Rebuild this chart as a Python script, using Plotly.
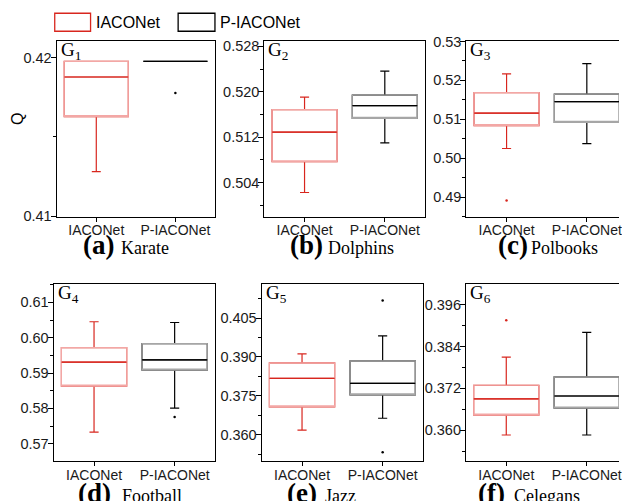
import plotly.graph_objects as go

W, H = 622, 501

# ---------------- data ----------------
categories = ["IACONet", "P-IACONet"]
panel_letters = ["a", "b", "c", "d", "e", "f"]
dataset_names = ["Karate", "Dolphins", "Polbooks", "Football", "Jazz", "Celegans"]

# IACONet box statistics per dataset
iaco_lower = [0.41281, 0.50226, 0.5025, 0.5733, 0.3618, 0.3586]
iaco_q1 = [0.41629, 0.50767, 0.5084, 0.58633, 0.3708, 0.3643]
iaco_median = [0.41879, 0.5129, 0.5116, 0.5931, 0.3818, 0.3690]
iaco_q3 = [0.41978, 0.51684, 0.51685, 0.59718, 0.3877, 0.3729]
iaco_upper = [0.41978, 0.51905, 0.5217, 0.6045, 0.3912, 0.3810]
iaco_outliers = [[], [], [0.4891], [], [], [0.3916]]

# P-IACONet box statistics per dataset
p_lower = [0.41978, 0.51101, 0.50377, 0.5801, 0.3664, 0.3586]
p_q1 = [0.41978, 0.5153, 0.50923, 0.5908, 0.3754, 0.3663]
p_median = [0.41978, 0.51754, 0.51454, 0.5937, 0.3798, 0.3698]
p_q3 = [0.41978, 0.5194, 0.5165, 0.5983, 0.3885, 0.3753]
p_upper = [0.41978, 0.52362, 0.5243, 0.6043, 0.3981, 0.3881]
p_outliers = [[0.41778], [], [], [0.5776], [0.4118, 0.3533], []]

# y-axis settings per panel
y_ranges = [[0.40997, 0.42105], [0.49802, 0.5289], [0.485, 0.53008],
            [0.5651, 0.6151], [0.3499, 0.418], [0.3511, 0.4019]]
y_dtick = [0.01, 0.008, 0.01, 0.01, 0.015, 0.012]
y_tick0 = [0.41, 0.504, 0.49, 0.57, 0.36, 0.36]
y_fmt = [".2f", ".3f", ".2f", ".2f", ".3f", ".3f"]

# ---------------- layout geometry (pixels) ----------------
px_x = [(57, 216), (265.7, 427), (468.7, 630), (54, 216), (263, 425), (468.3, 630)]
px_y = [(41, 216.5)] * 3 + [(284.3, 461.3)] * 3

RED = "#d8261e"
PINK = "#f3a7a5"
GRAY = "#a6a6a6"
BLACK = "#000000"
SANS = "Liberation Sans, Arial, sans-serif"
SERIF = "Liberation Serif, Times New Roman, serif"

fig = go.Figure()
layout = dict(
    width=W, height=H, margin=dict(l=0, r=0, t=0, b=0),
    paper_bgcolor="white", plot_bgcolor="white",
    showlegend=False, boxmode="overlay", boxgap=0.19, boxgroupgap=0,
)

annotations = []
shapes = []

def px2paper_x(p):
    return p / W

def px2paper_y(p):
    # vertical pixel target -> paper fraction (small correction for page offset)
    f = (p - 7.75) / 0.969
    return 1 - f / H

def add_box(xa, ya, cat, lo, q1, med, q3, hi, color, box_color):
    common = dict(x=[cat], xaxis=xa, yaxis=ya, boxpoints=False, width=0.81,
                  whiskerwidth=0.14, fillcolor="rgba(0,0,0,0)", hoverinfo="skip")
    fig.add_trace(go.Box(q1=[q1], median=[med], q3=[q3], lowerfence=[lo], upperfence=[hi],
                         line=dict(color=color, width=1.2), **common))
    fig.add_trace(go.Box(q1=[q1], median=[q1], q3=[q3], lowerfence=[q1], upperfence=[q3],
                         line=dict(color=box_color, width=1.2), **common))
    fig.add_trace(go.Box(q1=[med], median=[med], q3=[med], lowerfence=[med], upperfence=[med],
                         line=dict(color=color, width=1.2), **common))

for i in range(6):
    n = "" if i == 0 else str(i + 1)
    xa, ya = "x" + n, "y" + n
    x0, x1 = px_x[i]
    y0, y1 = px_y[i]
    clipped = x1 > W
    xr_hi = 1.5 if not clipped else -0.5 + 2 * (W - x0) / (x1 - x0)
    x1c = min(x1, W)

    add_box(xa, ya, categories[0], iaco_lower[i], iaco_q1[i], iaco_median[i], iaco_q3[i],
            iaco_upper[i], RED, PINK)
    add_box(xa, ya, categories[1], p_lower[i], p_q1[i], p_median[i], p_q3[i],
            p_upper[i], BLACK, GRAY)
    if iaco_outliers[i]:
        fig.add_trace(go.Scatter(x=[categories[0]] * len(iaco_outliers[i]), y=iaco_outliers[i],
                                 xaxis=xa, yaxis=ya, mode="markers", hoverinfo="skip",
                                 marker=dict(color=RED, size=2.5)))
    if p_outliers[i]:
        fig.add_trace(go.Scatter(x=[categories[1]] * len(p_outliers[i]), y=p_outliers[i],
                                 xaxis=xa, yaxis=ya, mode="markers", hoverinfo="skip",
                                 marker=dict(color=BLACK, size=2.5)))

    layout["xaxis" + n] = dict(
        domain=[px2paper_x(x0), px2paper_x(x1c)], anchor=ya,
        type="category", categoryorder="array", categoryarray=categories,
        range=[-0.5, xr_hi], showline=True, mirror=True, linecolor="black", linewidth=1.3,
        ticks="outside", ticklen=4, tickwidth=1.2, tickcolor="black", ticklabelstandoff=-3,
        tickfont=dict(family=SANS, size=14, color="#1a1a1a"),
        showgrid=False, zeroline=False, fixedrange=True,
    )
    layout["yaxis" + n] = dict(
        domain=[px2paper_y(y1), px2paper_y(y0)], anchor=xa,
        range=y_ranges[i], showline=True, mirror=not clipped, linecolor="black", linewidth=1.3,
        ticks="outside", ticklen=5, tickwidth=1.2, tickcolor="black", ticklabelstandoff=-4,
        tick0=y_tick0[i], dtick=y_dtick[i], tickformat=y_fmt[i],
        minor=dict(ticks="outside", ticklen=3, tickwidth=1, tickcolor="black",
                   tick0=y_tick0[i], dtick=y_dtick[i] / 2),
        tickfont=dict(family=SANS, size=14.5, color="#1a1a1a"),
        showgrid=False, zeroline=False, fixedrange=True,
    )

    annotations.append(dict(
        text="G<sub>%d</sub>" % (i + 1), xref="paper", yref="paper",
        x=px2paper_x(x0 + 2), y=px2paper_y(y0 - 4), xanchor="left", yanchor="top",
        showarrow=False, font=dict(family=SERIF, size=19, color="black")))

# captions
cap_letter_x = [83, 291.7, 500.7, 78, 288, 480]
cap_name_x = [122, 330, 534, 123, 326.7, 516.7]
cap_base = [254, 254, 254, 502, 502, 502]
for i in range(6):
    s1, s2 = 27, 18
    annotations.append(dict(
        text="<b>(%s)</b>" % panel_letters[i], xref="paper", yref="paper",
        x=px2paper_x(cap_letter_x[i] - 2), y=px2paper_y(cap_base[i] + 0.22 * s1 + 2),
        xanchor="left", yanchor="bottom", showarrow=False,
        font=dict(family=SERIF, size=s1, color="black")))
    annotations.append(dict(
        text=dataset_names[i], xref="paper", yref="paper",
        x=px2paper_x(cap_name_x[i] - 2), y=px2paper_y(cap_base[i] + 0.22 * s2 + 2),
        xanchor="left", yanchor="bottom", showarrow=False,
        font=dict(family=SERIF, size=s2, color="black")))

annotations.append(dict(text="Q", xref="paper", yref="paper", x=px2paper_x(17),
                        y=px2paper_y(119), xanchor="center", yanchor="middle",
                        textangle=-90, showarrow=False,
                        font=dict(family=SANS, size=16, color="black")))

# legend
legend_boxes = [(55, 91, RED), (179, 216, BLACK)]
legend_text_x = [96, 221]
for (lx0, lx1, col), tx, name in zip(legend_boxes, legend_text_x, categories):
    shapes.append(dict(type="rect", xref="paper", yref="paper",
                       x0=px2paper_x(lx0), x1=px2paper_x(lx1),
                       y0=px2paper_y(31), y1=px2paper_y(13),
                       line=dict(color=col, width=1.3), fillcolor="white"))
    annotations.append(dict(text=name, xref="paper", yref="paper",
                            x=px2paper_x(tx - 2), y=px2paper_y(22), xanchor="left",
                            yanchor="middle", showarrow=False,
                            font=dict(family=SANS, size=16, color="black")))

layout["annotations"] = annotations
layout["shapes"] = shapes
fig.update_layout(**layout)
fig.write_html("out.html")
